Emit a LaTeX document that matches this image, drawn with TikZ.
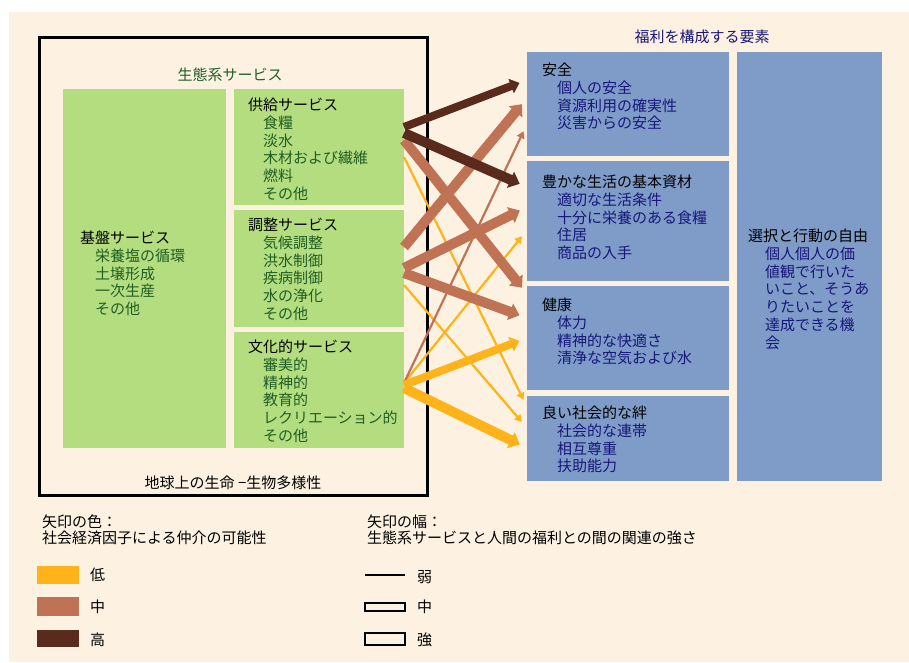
\documentclass[tikz,border=0pt]{standalone}
\usepackage{fontspec}
\setmainfont{Noto Sans CJK JP}
\usetikzlibrary{arrows.meta,calc}
\definecolor{cream}{HTML}{FDF2E2}
\definecolor{gfill}{HTML}{B4DD80}
\definecolor{bfill}{HTML}{7F9CC9}
\definecolor{gtext}{HTML}{1F5E24}
\definecolor{ntext}{HTML}{17177A}
\definecolor{yel}{HTML}{FFB31A}
\definecolor{brn}{HTML}{C07254}
\definecolor{dbrn}{HTML}{5A2A1C}
\tikzset{
  box/.style={inner sep=0pt, outer sep=0pt, anchor=north west},
  gbox/.style={box, fill=gfill},
  bbox/.style={box, fill=bfill},
  txt/.style={anchor=base west, inner sep=0pt, outer sep=0pt},
  ctxt/.style={anchor=base, inner sep=0pt, outer sep=0pt},
  arr/.style={line cap=butt, shorten >=8pt},
  strongw/.style={line width=10pt, -{Triangle[length=10pt,width=17pt]}},
  medw/.style={line width=8pt, -{Triangle[length=9pt,width=15pt]}},
  weakw/.style={line width=2.2pt, -{Triangle[length=7pt,width=8pt]}},
}
\newcommand\blk[7]{%
  \node[txt] (#1h) at (#2,#3+5.5) {#4};
  \foreach \t [count=\i] in {#7}
    \node[txt, text=#6] (#1\i) at (#2+#5,#3+5.5+17.8*\i) {\t};
}
\begin{document}
\begin{tikzpicture}[x=1pt,y=-1pt, font=\fontsize{15}{17}\selectfont]
\useasboundingbox (0,0) rectangle (909,662);
\fill[white] (0,0) rectangle (909,662);
\fill[cream] (9,12) rectangle (909,662);

% outer frame
\node[box, draw=black, line width=3pt, minimum width=388pt, minimum height=458pt] (life) at (39.5,37.5) {};

% ecosystem service boxes
\node[gbox, minimum width=163pt, minimum height=359pt] (sup) at (63,89) {};
\node[gbox, minimum width=170pt, minimum height=116pt] (prov) at (234,89) {};
\node[gbox, minimum width=170pt, minimum height=117pt] (reg) at (234,210) {};
\node[gbox, minimum width=170pt, minimum height=116pt] (cult) at (234,332) {};

% well-being boxes
\node[bbox, minimum width=202pt, minimum height=104pt] (sec) at (527,52) {};
\node[bbox, minimum width=202pt, minimum height=120pt] (mat) at (527,161) {};
\node[bbox, minimum width=202pt, minimum height=104pt] (hea) at (527,286) {};
\node[bbox, minimum width=202pt, minimum height=85pt] (soc) at (527,396) {};
\node[bbox, minimum width=145pt, minimum height=429pt] (free) at (737,52) {};

% titles
\node[ctxt, text=gtext] (esTitle) at (230,75+5.5) {生態系サービス};
\node[ctxt, text=ntext] (wbTitle) at (702,37+5.5) {福利を構成する要素};
\node[ctxt] (lifeTitle) at (233,483+5.5) {地球上の生命 −生物多様性};

% texts
\blk{ps}{248}{105}{供給サービス}{15}{gtext}{食糧,淡水,木材および繊維,燃料,その他}
\blk{ss}{80}{238}{基盤サービス}{15}{gtext}{栄養塩の循環,土壌形成,一次生産,その他}
\blk{rs}{248}{225}{調整サービス}{15}{gtext}{気候調整,洪水制御,疾病制御,水の浄化,その他}
\blk{cs}{248}{347}{文化的サービス}{15}{gtext}{審美的,精神的,教育的,レクリエーション的,その他}
\blk{se}{542}{70}{安全}{15}{ntext}{個人の安全,資源利用の確実性,災害からの安全}
\blk{ma}{542}{182}{豊かな生活の基本資材}{15}{ntext}{適切な生活条件,十分に栄養のある食糧,住居,商品の入手}
\blk{he}{542}{305}{健康}{15}{ntext}{体力,精神的な快適さ,清浄な空気および水}
\blk{so}{542}{413}{良い社会的な絆}{15}{ntext}{社会的な連帯,相互尊重,扶助能力}
\blk{fr}{748}{236}{選択と行動の自由}{17}{ntext}{個人個人の価,値観で行いた,いこと、そうあ,りたいことを,達成できる機,会}

% arrows: weak ones first
\draw[arr, weakw, yel] (prov.east |- 0,157) -- (soc.west |- 0,407);
\draw[arr, weakw, yel] (reg.east |- 0,285) -- (soc.west |- 0,428);
\draw[arr, weakw, yel] (cult.east |- 0,383) -- (mat.west |- 0,230);
\draw[arr, weakw, brn] (cult.east |- 0,383) -- (sec.west |- 0,124);
% medium/strong
\draw[arr, strongw, brn] (prov.east |- 0,140) -- (hea.west |- 0,294);
\draw[arr, strongw, brn] (reg.east |- 0,247) -- (sec.west |- 0,98);
\draw[arr, strongw, brn] (reg.east |- 0,268) -- (mat.west |- 0,207);
\draw[arr, strongw, brn] (reg.east |- 0,273) -- (hea.west |- 0,318);
\draw[arr, medw, yel] (cult.east |- 0,385) -- (hea.west |- 0,338);
\draw[arr, strongw, yel] (cult.east |- 0,388) -- (soc.west |- 0,448);
\draw[arr, medw, dbrn] (prov.east |- 0,127) -- (sec.west |- 0,80);
\draw[arr, strongw, dbrn] (prov.east |- 0,133) -- (mat.west |- 0,187);

% legend: colour
\node[txt] (lc1) at (42,522+5.5) {矢印の色：};
\node[txt] (lc2) at (42,538+5.5) {社会経済因子による仲介の可能性};
\node[box, fill=yel, minimum width=42pt, minimum height=18pt] (sw1) at (37,566) {};
\node[box, fill=brn, minimum width=42pt, minimum height=19pt] (sw2) at (37,597) {};
\node[box, fill=dbrn, minimum width=42pt, minimum height=17pt] (sw3) at (37,630) {};
\node[txt] (sl1) at (90,575+5.5) {低};
\node[txt] (sl2) at (90,607+5.5) {中};
\node[txt] (sl3) at (90,640+5.5) {高};

% legend: width
\node[txt] (lw1) at (367,522+5.5) {矢印の幅：};
\node[txt] (lw2) at (367,538+5.5) {生態系サービスと人間の福利との間の関連の強さ};
\coordinate (w1a) at (365,575);
\coordinate (w1b) at (405,575);
\draw[line width=2.5pt] (w1a) -- (w1b);
\node[box, draw=black, line width=1.5pt, minimum width=40pt, minimum height=8pt] (w2) at (365,603) {};
\node[box, draw=black, line width=1.5pt, minimum width=40pt, minimum height=12pt] (w3) at (365,633) {};
\node[txt] (wl1) at (417,577+5.5) {弱};
\node[txt] (wl2) at (417,607+5.5) {中};
\node[txt] (wl3) at (417,640+5.5) {強};
\end{tikzpicture}
\end{document}
